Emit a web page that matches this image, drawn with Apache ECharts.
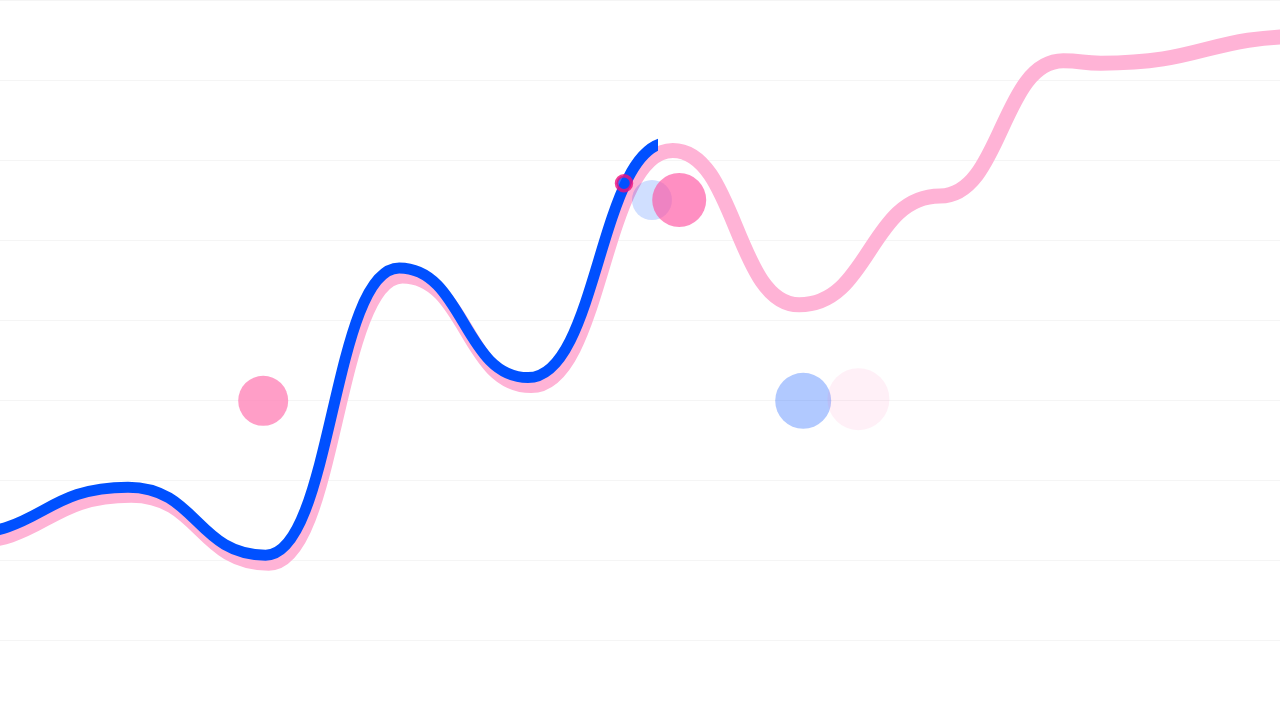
<!DOCTYPE html>
<html>
<head>
    <title>line scatter</title>
    <meta charset="UTF-8">
    <script src="https://cdn.jsdelivr.net/npm/echarts@6/dist/echarts.min.js"></script>
    <style type="text/css">
      body{
        background: #fff;
        margin: 0;
        padding: 0;
      }
    </style>
</head>
<body>
<div id="main" style="width:1280px;height:720px;"></div>
<script type="text/javascript">
    // x in units of 80px, y counted from the bottom; first/last points sit off screen
    var pinkX = [-1.6, -0.5, 1.64, 3.36, 5.03, 6.64, 8.41, 9.99, 11.75, 13.29, 13.76, 16.38, 18];
    var pinkY = [1.90, 2.22, 2.81, 1.96, 5.55, 4.18, 7.12, 5.19, 6.55, 8.24, 8.21, 8.55, 8.40];

    var blueX = [-1.64, -0.54, 1.60, 3.32, 4.99, 6.60, 8.37, 9.95];
    var blueY = [2.00, 2.32, 2.91, 2.06, 5.65, 4.28, 7.22, 5.29];
    var blueEnd = 8.15;   // blue line stops drawing here

    var dotX = [3.29, 8.15, 8.49, 10.04, 10.73];
    var dotY = [3.99, 6.50, 6.50, 3.99, 4.01];
    var dotSize = [50, 40, 54, 56, 62];
    var dotColor = ['#ff86b9', 'rgba(0,80,255,0.23)', 'rgba(255,80,160,0.8)', 'rgba(0,80,255,0.38)', 'rgba(255,100,170,0.12)'];

    var ringX = [7.8];
    var ringY = [6.71];

    function pairs(xs, ys){
        var out = [];
        for (var i = 0; i < xs.length; i++) {
            out.push([xs[i], ys[i]]);
        }
        return out;
    }

    var dots = [];
    for (var i = 0; i < dotX.length; i++) {
        dots.push({
            value: [dotX[i], dotY[i]],
            symbolSize: dotSize[i],
            itemStyle: { color: dotColor[i] }
        });
    }

    var chart = echarts.init(document.getElementById('main'));
    var option = {
        animation: false,
        grid: [
            { left: 0, right: 0, top: 0, bottom: 0 },
            // same scale, cut where the blue line ends
            { left: 0, top: 0, bottom: 0, width: blueEnd * 80 }
        ],
        xAxis: [
            { gridIndex: 0, type: 'value', min: 0, max: 16, show: false },
            { gridIndex: 1, type: 'value', min: 0, max: blueEnd, show: false }
        ],
        yAxis: [
            {
                gridIndex: 0, type: 'value', min: 0, max: 9, interval: 1,
                axisLine: { show: false },
                axisTick: { show: false },
                axisLabel: { show: false },
                splitLine: { lineStyle: { color: '#f5f5f5', width: 1 } }
            },
            { gridIndex: 1, type: 'value', min: 0, max: 9, show: false }
        ],
        series: [
            {
                type: 'line',
                data: pairs(pinkX, pinkY),
                smooth: 0.5,
                smoothMonotone: 'x',
                symbol: 'none',
                lineStyle: { color: '#ffb3d6', width: 15 },
                z: 1
            },
            {
                type: 'line',
                xAxisIndex: 1,
                yAxisIndex: 1,
                data: pairs(blueX, blueY),
                smooth: 0.5,
                smoothMonotone: 'x',
                symbol: 'none',
                clip: true,
                lineStyle: { color: '#0050ff', width: 11, cap: 'round' },
                z: 2
            },
            {
                type: 'scatter',
                data: dots,
                z: 3
            },
            {
                type: 'scatter',
                data: pairs(ringX, ringY),
                symbolSize: 15,
                itemStyle: { color: '#0050ff', borderColor: '#f0107a', borderWidth: 3.5 },
                z: 4
            }
        ]
    };
    chart.setOption(option);
</script>
</body>
</html>
